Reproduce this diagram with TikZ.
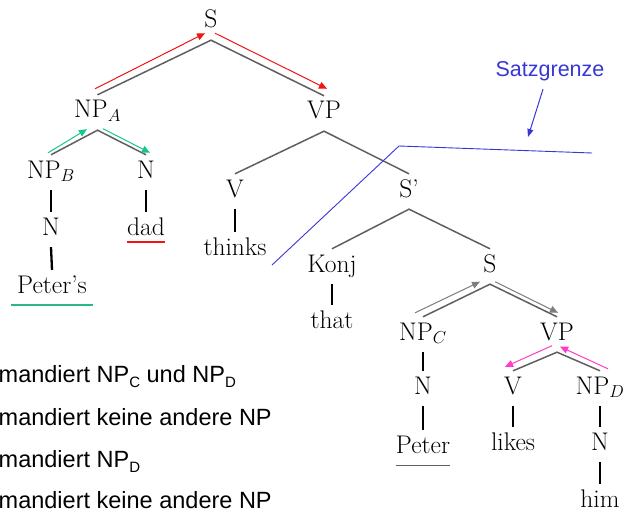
\documentclass[tikz,border=0pt]{standalone}
\usepackage{fontspec}
\newfontfamily\arialf{Liberation Sans}
\usetikzlibrary{arrows.meta}
\definecolor{sgblue}{RGB}{55,55,215}
\definecolor{arrred}{RGB}{240,20,20}
\definecolor{arrgreen}{RGB}{20,200,140}
\definecolor{ulgreen}{RGB}{40,185,135}
\definecolor{arrpink}{RGB}{255,60,200}
\definecolor{arrgray}{RGB}{125,125,125}
\definecolor{edgegray}{RGB}{95,95,95}
\newcommand\lsub[1]{\raisebox{-5pt}{\fontsize{15}{15}\selectfont #1}}
\begin{document}
\begin{tikzpicture}[x=1pt,y=-1pt,
  tn/.style={anchor=base, inner xsep=0pt, inner ysep=5.5pt, text height=17.5pt, text depth=6.5pt, font=\fontsize{25.5}{30}\selectfont},
  treeedge/.style={draw=edgegray, line width=1.5pt},
  vthick/.style={draw=black, line width=2.3pt},
  vthin/.style={draw=black, line width=1.1pt},
  colarrow/.style={line width=1pt, -{Triangle[length=8pt,width=7pt]}},
  underl/.style={line width=1.6pt},
  lefttext/.style={anchor=base west, inner sep=0pt, font=\arialf\fontsize{23.5}{28}\selectfont}
]
\useasboundingbox (0,0) rectangle (628,513);
% tree nodes
\node[tn] (S) at (211,28) {S};
\node[tn] (NPA) at (97.5,118) {NP$_A$};
\node[tn] (VP) at (324,119) {VP};
\node[tn] (NPB) at (51,178) {NP$_B$};
\node[tn] (N1) at (146,178) {N};
\node[tn] (V1) at (235,197) {V};
\node[tn] (Sb) at (409,197) {S'};
\node[tn] (N2) at (51,235) {N};
\node[tn] (dad) at (146,235) {dad};
\node[tn] (thinks) at (235,255) {thinks};
\node[tn] (Peters) at (52,293) {Peter's};
\node[tn] (Konj) at (332,272) {Konj};
\node[tn] (S2) at (490,272) {S};
\node[tn] (that) at (332,328) {that};
\node[tn] (NPC) at (423,340) {NP$_C$};
\node[tn] (VP2) at (557,340) {VP};
\node[tn] (V2) at (513,394) {V};
\node[tn] (NPD) at (600,394) {NP$_D$};
\node[tn] (N3) at (423,394) {N};
\node[tn] (Peter) at (423,453) {Peter};
\node[tn] (likes) at (513,450) {likes};
\node[tn] (N4) at (600,450) {N};
\node[tn] (him) at (600,507) {him};
% tree edges
\draw[treeedge] (NPA.north) -- (S.south) -- (VP.north);
\draw[treeedge] (NPB.north) -- (NPA.south) -- (N1.north);
\draw[treeedge] (V1.north) -- (VP.south) -- (Sb.north);
\draw[treeedge] (Konj.north) -- (Sb.south) -- (S2.north);
\draw[treeedge] (NPC.north) -- (S2.south) -- (VP2.north);
\draw[treeedge] (V2.north) -- (VP2.south) -- (NPD.north);
\draw[vthick] (NPB.south) -- (N2.north);
\draw[vthick] (N2.south) -- (Peters.north);
\draw[vthick] (N1.south) -- (dad.north);
\draw[vthin] (V1.south) -- (thinks.north);
\draw[vthin] (Konj.south) -- (that.north);
\draw[vthick] (NPC.south) -- (N3.north);
\draw[vthick] (N3.south) -- (Peter.north);
\draw[vthick] (V2.south) -- (likes.north);
\draw[vthick] (NPD.south) -- (N4.north);
\draw[vthick] (N4.south) -- (him.north);
% underlines
\draw[underl, color=ulgreen] ([xshift=-6pt]Peters.south west) -- ([xshift=6pt]Peters.south east);
\draw[underl, color=arrred] ([yshift=5pt]dad.south west) -- ([yshift=5pt]dad.south east);
\draw[color=edgegray, line width=1pt] (Peter.south west) -- (Peter.south east);
% coloured arrows
\draw[colarrow, arrred] ([xshift=-2.5pt,yshift=6pt]NPA.north) -- ([xshift=-6pt,yshift=7pt]S.south);
\draw[colarrow, arrred] ([xshift=4pt,yshift=7pt]S.south) -- ([xshift=3pt,yshift=7pt]VP.north);
\draw[colarrow, arrgreen] ([xshift=-3pt,yshift=2pt]NPB.north) -- ([xshift=-10.5pt,yshift=1pt]NPA.south);
\draw[colarrow, arrgreen] ([xshift=5.5pt,yshift=1.5pt]NPA.south) -- ([xshift=4pt,yshift=2pt]N1.north);
\draw[colarrow, arrgray] ([xshift=-8pt,yshift=4pt]NPC.north) -- ([xshift=-10pt,yshift=2.5pt]S2.south);
\draw[colarrow, arrgray] ([xshift=5pt,yshift=2.5pt]S2.south) -- ([xshift=1pt,yshift=4pt]VP2.north);
\draw[colarrow, arrpink] ([xshift=-5pt,yshift=6.5pt]VP2.south) -- ([xshift=-8pt,yshift=4pt]V2.north);
\draw[colarrow, arrpink] ([xshift=8pt,yshift=2pt]NPD.north) -- ([xshift=3pt,yshift=5.5pt]VP2.south);
% Satzgrenze
\node[anchor=base, inner sep=0pt, text=sgblue, font=\arialf\fontsize{21.5}{26}\selectfont] (sg) at (550,77) {Satzgrenze};
\coordinate (sgtip) at (528,137);
\draw[sgblue, line width=1pt, -{Triangle[length=8pt,width=6pt]}] ([xshift=-7pt,yshift=-7.5pt]sg.south) -- (sgtip);
\coordinate (b1) at (272,265);
\coordinate (b2) at (399,146);
\coordinate (b3) at (592,153);
\draw[sgblue, line width=0.9pt] (b1) -- (b2) -- (b3);
% left text
\node[lefttext] (l1) at (-1.5,382) {mandiert NP\lsub{C} und NP\lsub{D}};
\node[lefttext] (l2) at (-1.5,425) {mandiert keine andere NP};
\node[lefttext] (l3) at (-1.5,467) {mandiert NP\lsub{D}};
\node[lefttext] (l4) at (-1.5,508) {mandiert keine andere NP};
\end{tikzpicture}
\end{document}
